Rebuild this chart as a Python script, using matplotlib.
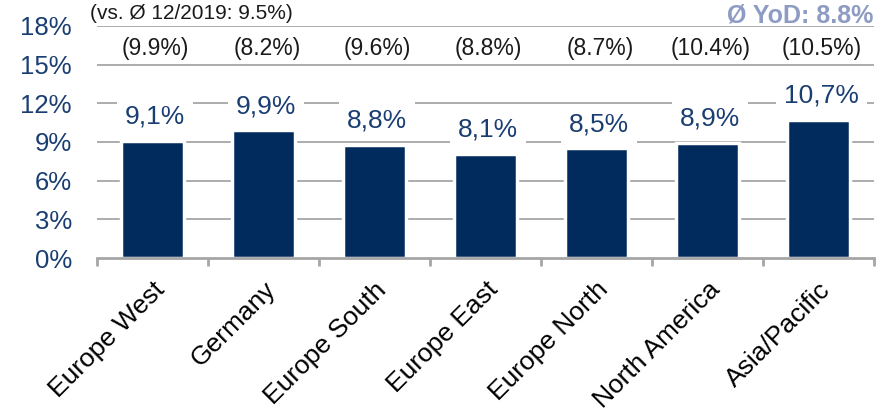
import matplotlib.pyplot as plt
import numpy as np

# data
regions = ["Europe West", "Germany", "Europe South", "Europe East",
           "Europe North", "North America", "Asia/Pacific"]
values = [9.1, 9.9, 8.8, 8.1, 8.5, 8.9, 10.7]       # current year, %
prev_values = [9.9, 8.2, 9.6, 8.8, 8.7, 10.4, 10.5]  # 12/2019, %
yticks = [0, 3, 6, 9, 12, 15, 18]
note_left = "(vs. Ø 12/2019: 9.5%)"
note_right = "Ø YoD: 8.8%"

plt.rcParams['font.family'] = ['Liberation Sans', 'DejaVu Sans']

bar_color = '#002B5C'
label_blue = '#1A3E72'
grid_gray = '#A6A6A6'

fig = plt.figure(figsize=(8.93, 4.19), dpi=100)
ax = fig.add_axes([0.1086, 0.3842, 0.87, 0.5538])

x = np.arange(len(regions))

# gridlines
for t in yticks[1:]:
    ax.axhline(t, color=grid_gray, lw=1.3, zorder=0)

ax.bar(x, values, width=0.57, color=bar_color, edgecolor='white',
       linewidth=2.5, zorder=2)

# value labels with white boxes that cut the gridlines
for xi, v in zip(x, values):
    ax.annotate(f"{v:.1f}%".replace('.', ','), (xi, v), xytext=(2, 17.5),
                textcoords='offset points', ha='center', va='center',
                fontsize=19, color=label_blue, zorder=3,
                bbox=dict(boxstyle='square,pad=0.3', fc='white', ec='none'))

# previous-year values in brackets
for xi, p in zip(x, prev_values):
    ax.text(xi + 0.03, 16.25, f"({p:.1f}%)", ha='center', va='center',
            fontsize=16.5, color='#1a1a1a')

ax.set_xlim(-0.5, len(regions) - 0.5)
ax.set_ylim(0, 18)
ax.set_yticks(yticks)
ax.set_yticklabels([f"{t}%" for t in yticks], fontsize=18.5, color=label_blue)
ax.tick_params(axis='y', length=0, pad=18)

# category labels on major ticks, tick marks on minor ticks at boundaries
ax.set_xticks(x)
ax.set_xticklabels(regions, fontsize=19, rotation=45, ha='right',
                   va='top', rotation_mode='anchor')
ax.tick_params(axis='x', which='major', length=0, pad=14)
ax.set_xticks(np.arange(-0.5, len(regions)), minor=True)
ax.tick_params(axis='x', which='minor', length=6, width=2, color=grid_gray,
               direction='out')

for side in ['top', 'right', 'left']:
    ax.spines[side].set_visible(False)
ax.spines['bottom'].set_color(grid_gray)
ax.spines['bottom'].set_linewidth(2)

fig.text(0.1008, 0.9666, note_left, ha='left', va='center', fontsize=15,
         color='#1a1a1a')
fig.text(0.9776, 0.962, note_right, ha='right', va='center', fontsize=18,
         fontweight='bold', color='#8E9BC5')

fig.savefig('out.png', dpi=100)
